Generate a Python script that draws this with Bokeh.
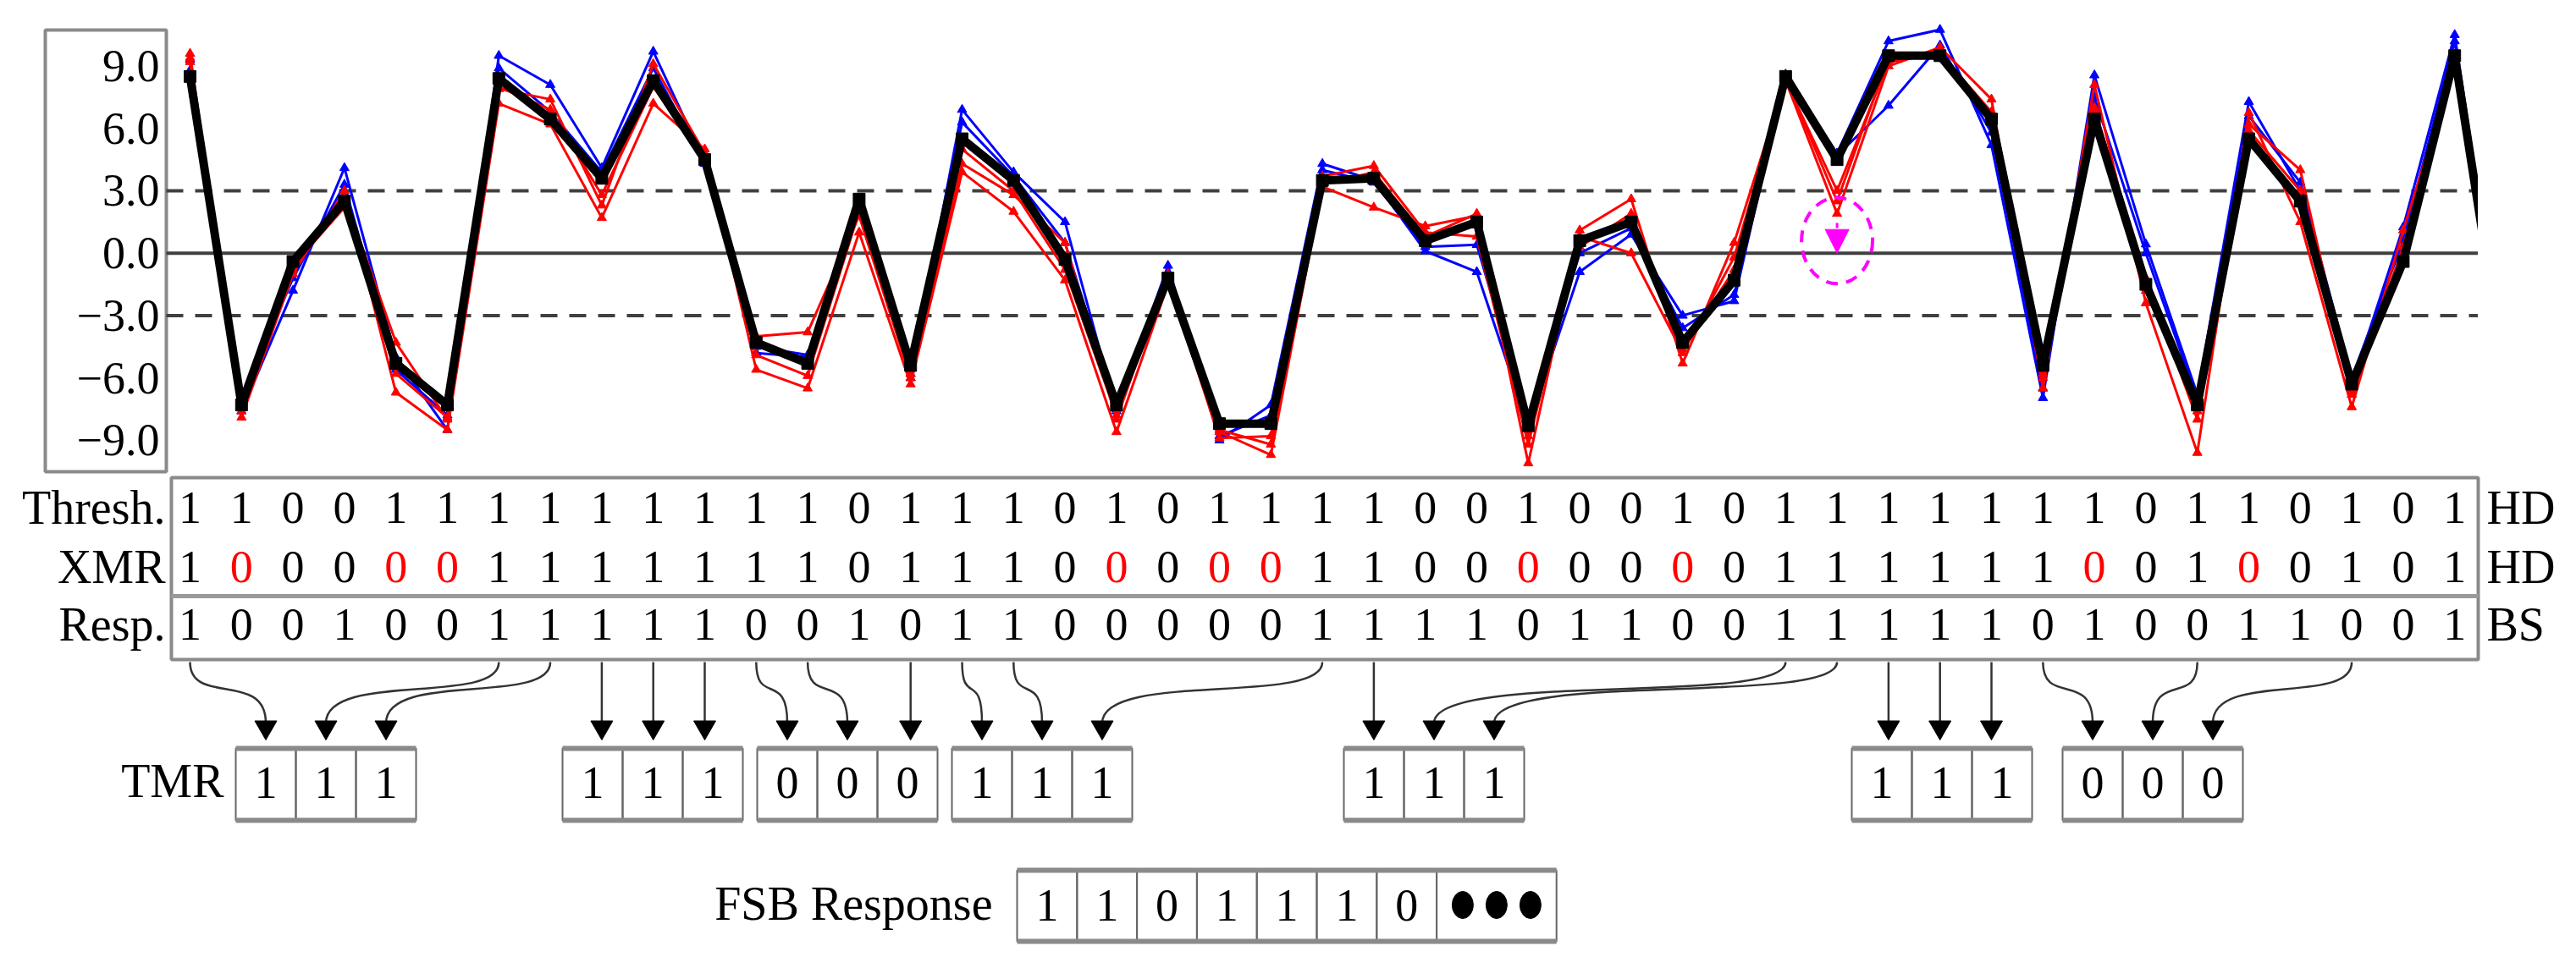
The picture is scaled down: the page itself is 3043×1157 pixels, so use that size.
from bokeh.plotting import figure
from bokeh.layouts import column
from bokeh.models import Range1d, LinearAxis, FixedTicker, CustomJSTickFormatter, Arrow, NormalHead
from bokeh.core.properties import value
from bokeh.embed import file_html
from bokeh.resources import INLINE

# ------------------------------------------------------------------ data
# mean response (black) and individual measurements (blue / red); last value is clipped by the frame
mean_resp = [8.5, -7.3, -0.4, 2.5, -5.3, -7.3, 8.4, 6.45, 3.6, 8.3, 4.5, -4.3, -5.3, 2.6, -5.4,
             5.5, 3.5, -0.3, -7.3, -1.2, -8.2, -8.2, 3.5, 3.6, 0.6, 1.5, -8.3, 0.6, 1.5, -4.3,
             -1.3, 8.5, 4.5, 9.5, 9.5, 6.45, -5.4, 6.45, -1.5, -7.3, 5.5, 2.5, -6.3, -0.4, 9.5, -6.3]
blue_a = [9.3, -7.6, -1.8, 4.1, -5.0, -8.5, 9.5, 8.1, 4.1, 9.7, 4.4, -4.5, -4.9, 2.6, -6.0,
          6.9, 3.9, 1.5, -7.6, -0.6, -9.0, -7.3, 4.3, 3.5, 0.1, -0.9, -8.3, -0.9, 0.9, -3.0,
          -2.3, 8.6, 4.8, 10.2, 10.75, 5.2, -6.96, 8.56, 0.43, -6.8, 7.28, 3.0, -6.3, 1.25, 10.5, -6.0]
blue_b = [8.8, -7.0, -1.2, 3.3, -5.6, -7.8, 8.9, 6.8, 3.9, 8.9, 4.3, -4.8, -5.0, 2.4, -5.8,
          6.3, 3.7, 0.5, -7.5, -0.9, -8.8, -7.8, 4.0, 3.4, 0.3, 0.4, -8.0, 0.0, 1.2, -3.6,
          -2.0, 8.4, 4.7, 7.1, 10.0, 5.8, -6.5, 7.5, 0.0, -7.0, 6.6, 3.4, -6.0, 0.6, 10.2, -6.2]
red_a = [9.6, -7.9, -1.0, 3.0, -6.7, -8.5, 7.2, 6.2, 1.7, 7.2, 5.0, -5.6, -6.5, 1.0, -6.3,
         3.9, 2.0, -1.3, -8.6, -1.5, -8.6, -9.7, 3.2, 2.2, 1.3, 1.8, -10.1, 1.1, 2.6, -5.3,
         0.5, 8.3, 1.9, 9.0, 9.9, 7.4, -6.5, 8.1, -2.4, -9.6, 6.75, 1.5, -7.4, 1.1, 9.0, -6.5]
red_b = [9.4, -7.6, -0.8, 2.7, -4.3, -8.0, 7.9, 7.4, 2.3, 9.1, 4.8, -4.0, -3.8, 1.8, -6.0,
         4.3, 2.8, 0.5, -8.0, -1.0, -8.5, -9.2, 3.7, 4.2, 1.0, 0.8, -9.2, 0.8, 0.0, -4.8,
         -0.2, 8.3, 3.0, 9.2, 9.6, 6.8, -6.0, 7.0, -1.2, -8.0, 6.2, 4.0, -6.8, 0.3, 9.2, -6.4]
red_c = [9.2, -7.4, -0.6, 2.2, -5.8, -7.9, 8.0, 6.9, 2.8, 8.0, 4.6, -4.9, -5.9, 2.0, -5.8,
         5.0, 3.0, -0.8, -7.8, -1.3, -8.9, -8.8, 3.3, 3.9, 0.8, 1.9, -8.8, 0.3, 1.9, -4.6,
         -0.8, 8.4, 2.5, 9.4, 9.7, 6.6, -5.8, 6.9, -1.8, -7.6, 5.9, 3.0, -6.6, -0.1, 9.4, -6.3]

y_ticks = [-9, -6, -3, 0, 3, 6, 9]
threshold = 3.0
flagged_bit = 32          # bit highlighted by the magenta marker

thresh_bits = [1,1,0,0,1,1,1,1,1,1,1,1,1,0,1,1,1,0,1,0,1,1,1,1,0,0,1,0,0,1,0,1,1,1,1,1,1,1,0,1,1,0,1,0,1]
xmr_bits    = [1,0,0,0,0,0,1,1,1,1,1,1,1,0,1,1,1,0,0,0,0,0,1,1,0,0,0,0,0,0,0,1,1,1,1,1,1,0,0,1,0,0,1,0,1]
resp_bits   = [1,0,0,1,0,0,1,1,1,1,1,0,0,1,0,1,1,0,0,0,0,0,1,1,1,1,0,1,1,0,0,1,1,1,1,1,0,1,0,0,1,1,0,0,1]
row_labels = ["Thresh.", "XMR", "Resp."]
row_tags = ["HD", "HD", "BS"]

tmr_groups = [[0, 6, 7], [8, 9, 10], [11, 12, 14], [15, 16, 22], [23, 31, 32], [33, 34, 35], [36, 39, 42]]
tmr_values = [[1, 1, 1], [1, 1, 1], [0, 0, 0], [1, 1, 1], [1, 1, 1], [1, 1, 1], [0, 0, 0]]
fsb_values = [1, 1, 0, 1, 1, 1, 0]

# ------------------------------------------------------------------ layout constants (page pixels)
X0, DX = 232.0, 60.8          # page x of bit 0, spacing between bits
Y0, DY = 306.7, 24.57         # page y of value 0, pixels per unit
def cx(px):
    return (px - X0) / DX
def vy(py):
    return (Y0 - py) / DY

FONT = value("Liberation Serif")
GRAY = "#8a8a8a"

# ------------------------------------------------------------------ top chart
TOP_H = 560
pA = figure(width=2927, height=TOP_H, output_backend="svg", toolbar_location=None,
            x_range=Range1d(cx(8), cx(2935)), y_range=Range1d(vy(8 + TOP_H), vy(8)),
            x_axis_location=None, y_axis_location=None, min_border=0,
            outline_line_color=None, background_fill_color="white", border_fill_color="white")
pA.xgrid.visible = False
pA.ygrid.visible = False

# axis box
pA.quad(left=[cx(61)], right=[cx(204)], top=[vy(43)], bottom=[vy(565)],
        fill_color=None, line_color=GRAY, line_width=4)
yax = LinearAxis(fixed_location=cx(204), ticker=FixedTicker(ticks=y_ticks),
                 formatter=CustomJSTickFormatter(code="return tick.toFixed(1).replace('-', '\u2212');"))
yax.axis_line_color = None
yax.major_tick_out = 0
yax.major_tick_in = 0
yax.minor_tick_out = 0
yax.minor_tick_in = 0
yax.major_label_standoff = 8
yax.major_label_text_font = "Liberation Serif"
yax.major_label_text_font_size = "54px"
yax.major_label_text_color = "black"
pA.add_layout(yax, "left")

x_end = cx(2947)
pA.segment(x0=[cx(204)], y0=[0], x1=[x_end], y1=[0], line_color="#404040", line_width=4)
pA.segment(x0=[cx(204)] * 2, y0=[threshold, -threshold], x1=[x_end] * 2, y1=[threshold, -threshold],
           line_color="#404040", line_width=4, line_dash="20 14")

xs = list(range(len(mean_resp)))
for ser in (blue_a, blue_b):
    pA.line(xs, ser, line_color="#0000ff", line_width=3)
    pA.scatter(xs, ser, marker="triangle", size=11, color="#0000ff")
for ser in (red_a, red_b, red_c):
    pA.line(xs, ser, line_color="#ff0000", line_width=3)
    pA.scatter(xs, ser, marker="triangle", size=11, color="#ff0000")
pA.line(xs, mean_resp, line_color="black", line_width=10)
pA.scatter(xs, mean_resp, marker="square", size=14, color="black")

# magenta highlight
pA.ellipse(x=[flagged_bit], y=[0.6], width=1.38, height=4.15, fill_color=None,
           line_color="#ff00ff", line_width=4, line_dash="14 10")
pA.add_layout(Arrow(end=NormalHead(size=28, fill_color="#ff00ff", line_color="#ff00ff"),
                    x_start=flagged_bit, y_start=1.45, x_end=flagged_bit, y_end=0.0,
                    line_color="#ff00ff", line_width=3, line_dash="6 4"))

# ------------------------------------------------------------------ bit table / TMR / FSB
B_TOP = 8 + TOP_H
pB = figure(width=3027, height=1149 - B_TOP, output_backend="svg", toolbar_location=None,
            x_range=Range1d(cx(8), cx(3035)), y_range=Range1d(1149, B_TOP),
            x_axis_location=None, y_axis_location=None, min_border=0,
            outline_line_color=None, background_fill_color="white", border_fill_color="white")
pB.xgrid.visible = False
pB.ygrid.visible = False

T_TOP, T_SEP, T_BOT = 572, 712, 787
row_y = [607, 677, 745]
pB.quad(left=[cx(210)], right=[cx(2935)], top=[T_TOP], bottom=[T_BOT],
        fill_color=None, line_color=GRAY, line_width=4)
pB.segment(x0=[cx(210)], y0=[T_SEP], x1=[cx(2935)], y1=[T_SEP], line_color="#9a9a9a", line_width=5)

cols = list(range(len(thresh_bits)))
for r, bits in enumerate([thresh_bits, xmr_bits, resp_bits]):
    colors = ["black"] * len(bits)
    if r == 1:
        colors = ["#ff0000" if b != t else "black" for b, t in zip(bits, thresh_bits)]
    pB.text(x=cols, y=[row_y[r]] * len(bits), text=[str(b) for b in bits], text_color=colors,
            text_font=FONT, text_font_size="54px", text_align="center", text_baseline="middle")
pB.text(x=[cx(203)] * 3, y=row_y, text=row_labels, text_font=FONT, text_font_size="56px",
        text_align="right", text_baseline="middle", text_color="black")
pB.text(x=[cx(2945)] * 3, y=row_y, text=row_tags, text_font=FONT, text_font_size="56px",
        text_align="left", text_baseline="middle", text_color="black")

# TMR groups
group_left = [286, 672, 902, 1132, 1595, 2195, 2444]
CW = 71
M_TOP, M_BOT, M_MID = 892, 977, 932
TIP_Y, HEAD = 882, 26
arrow_tail = T_BOT + 3
sx, sy, ex, ey = [], [], [], []
bz = dict(x0=[], y0=[], x1=[], y1=[], cx0=[], cy0=[], cx1=[], cy1=[])
heads_x = []
for g, left, vals in zip(tmr_groups, group_left, tmr_values):
    lefts = [cx(left + CW * k) for k in range(3)]
    rights = [cx(left + CW * (k + 1)) for k in range(3)]
    pB.quad(left=lefts, right=rights, top=[M_TOP] * 3, bottom=[M_BOT] * 3,
            fill_color=None, line_color="#666666", line_width=2)
    pB.segment(x0=[cx(left)] * 2, y0=[M_TOP, M_BOT], x1=[cx(left + 3 * CW)] * 2, y1=[M_TOP, M_BOT],
               line_color=GRAY, line_width=6)
    pB.text(x=[cx(left + CW * (k + 0.5)) for k in range(3)], y=[M_MID] * 3, text=[str(v) for v in vals],
            text_font=FONT, text_font_size="54px", text_align="center", text_baseline="middle",
            text_color="black")
    for k, c in enumerate(g):
        center = left + CW * (k + 0.5)
        src = X0 + DX * c
        if abs(center - src) < 20:
            sx.append(c); sy.append(arrow_tail); ex.append(c); ey.append(TIP_Y - 10)
            heads_x.append(c)
        else:
            bz["x0"].append(c); bz["y0"].append(arrow_tail)
            bz["x1"].append(cx(center)); bz["y1"].append(TIP_Y - 20)
            bz["cx0"].append(c); bz["cy0"].append(842)
            bz["cx1"].append(cx(center)); bz["cy1"].append(800)
            heads_x.append(cx(center))
pB.segment(x0=sx, y0=sy, x1=ex, y1=ey, line_color="#333333", line_width=2.5)
pB.bezier(line_color="#333333", line_width=2.5, **bz)
pB.scatter(x=heads_x, y=[TIP_Y - 15] * len(heads_x), marker="inverted_triangle", size=HEAD,
           color="black")
pB.text(x=[cx(272)], y=[M_MID - 2], text=["TMR"], text_font=FONT, text_font_size="56px",
        text_align="right", text_baseline="middle", text_color="black")

# FSB response
F_LEFT, F_TOP, F_BOT, F_MID, FW = 1209, 1036, 1120, 1077, 70.8
f_lefts = [cx(F_LEFT + FW * k) for k in range(len(fsb_values))] + [cx(F_LEFT + FW * len(fsb_values))]
f_rights = [cx(F_LEFT + FW * (k + 1)) for k in range(len(fsb_values))] + [cx(F_LEFT + FW * (len(fsb_values) + 2))]
pB.quad(left=f_lefts, right=f_rights, top=[F_TOP] * len(f_lefts), bottom=[F_BOT] * len(f_lefts),
        fill_color=None, line_color="#666666", line_width=2)
pB.segment(x0=[f_lefts[0]] * 2, y0=[F_TOP, F_BOT], x1=[f_rights[-1]] * 2, y1=[F_TOP, F_BOT],
           line_color=GRAY, line_width=6)
pB.text(x=[cx(F_LEFT + FW * (k + 0.5)) for k in range(len(fsb_values))], y=[F_MID] * len(fsb_values),
        text=[str(v) for v in fsb_values], text_font=FONT, text_font_size="54px",
        text_align="center", text_baseline="middle", text_color="black")
dot_c = F_LEFT + FW * (len(fsb_values) + 1)
pB.ellipse(x=[cx(dot_c + d) for d in (-40, 0, 40)], y=[F_MID] * 3, width=25 / DX, height=32,
           color="black")
pB.text(x=[cx(1180)], y=[F_MID - 2], text=["FSB Response"], text_font=FONT, text_font_size="56px",
        text_align="right", text_baseline="middle", text_color="black")

layout = column(pA, pB, spacing=0)
open("out.html", "w").write(file_html(layout, INLINE))
